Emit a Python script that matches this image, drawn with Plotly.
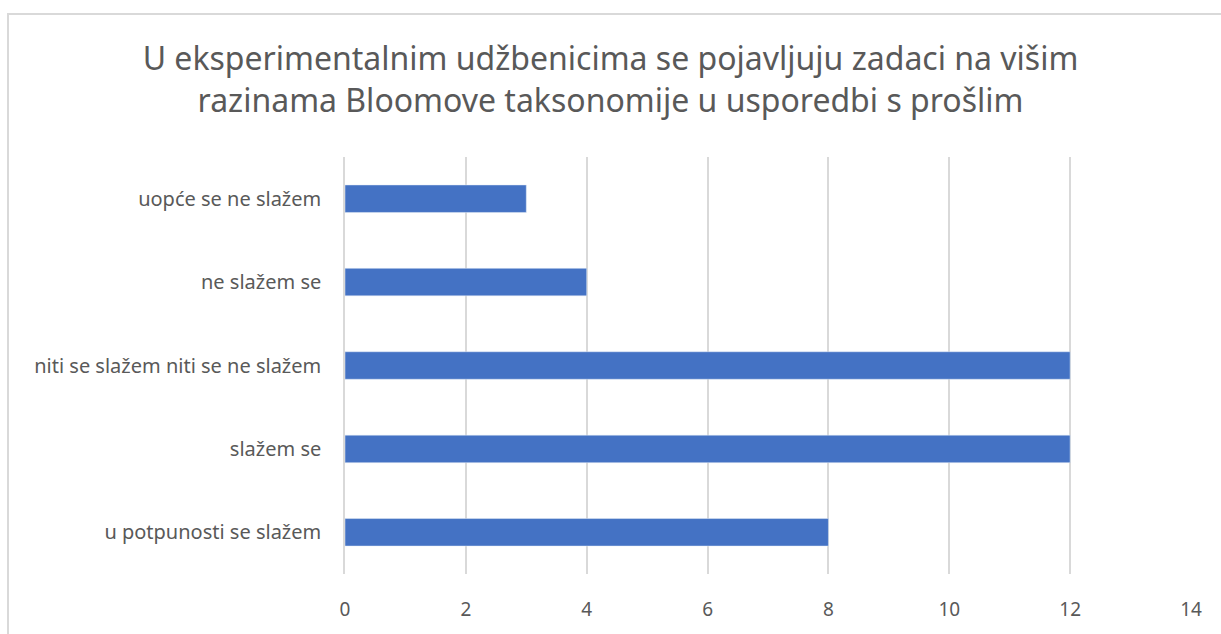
import plotly.graph_objects as go

categories = ['uopće se ne slažem', 'ne slažem se', 'niti se slažem niti se ne slažem',
              'slažem se', 'u potpunosti se slažem']
values = [3, 4, 12, 12, 8]
x_ticks = [0, 2, 4, 6, 8, 10, 12, 14]

title_text = ('U eksperimentalnim udžbenicima se pojavljuju zadaci na višim<br>'
              'razinama Bloomove taksonomije u usporedbi s prošlim')

W, H = 1221, 634
L, R, T, B = 345, 30, 157, 54
pw, ph = W - L - R, H - T - B


def px_x(px):
    return (px - L) / pw


def px_y(py):
    return (H - B - py) / ph


fig = go.Figure()
fig.add_trace(go.Bar(x=values, y=categories, orientation='h', marker_color='#4472C4',
                     hoverinfo='x+y'))

fig.update_layout(
    width=W, height=H,
    margin=dict(l=L, r=R, t=T, b=B),
    paper_bgcolor='white', plot_bgcolor='white',
    font=dict(family='Noto Sans', color='#595959'),
    title=dict(text=title_text, x=0.5, xref='container', xanchor='center',
               y=1 - 70 / H, yref='container', yanchor='middle',
               font=dict(size=32, color='#595959')),
    bargap=0.67,
    showlegend=False,
    shapes=[dict(type='rect', xref='paper', yref='paper',
                 x0=px_x(8), x1=px_x(1230), y0=px_y(645), y1=px_y(12),
                 line=dict(color='#D9D9D9', width=2), fillcolor='rgba(0,0,0,0)')],
)
fig.update_xaxes(range=[0, 14], tickvals=x_ticks, showgrid=True, gridcolor='#D9D9D9',
                 gridwidth=1.5, zeroline=False, showline=False, ticks='',
                 tickfont=dict(size=19, color='#595959'), ticklabelstandoff=22)
fig.update_yaxes(autorange='reversed', showgrid=False, zeroline=False, showline=True,
                 linecolor='#D9D9D9', linewidth=1.5, ticks='',
                 tickfont=dict(size=20, color='#595959'), ticklabelstandoff=18)

fig.write_html('out.html', config={'displayModeBar': False},
               post_script="document.body.style.margin='0';")
